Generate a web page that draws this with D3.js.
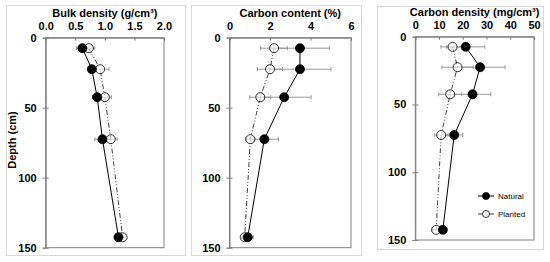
<!DOCTYPE html>
<html>
<head>
<meta charset="utf-8">
<script src="https://cdn.jsdelivr.net/npm/d3@7"></script>
<style>
  body { margin: 0; background: #fff; }
  text { font-family: "Liberation Sans", Arial, sans-serif; }
</style>
</head>
<body>
<div id="chart"></div>
<script>
// depth of each sample (cm)
var depths = [7.5, 22.5, 42.5, 72.5, 142.5];
var depthTicks = [0, 50, 100, 150];

// bulk density (g/cm3)
var bulkNatural = [0.62, 0.78, 0.87, 0.96, 1.23];
var bulkNaturalErr = [0.1, 0.06, 0.08, 0.13, 0.05];
var bulkPlanted = [0.73, 0.92, 1.0, 1.1, 1.3];
var bulkPlantedErr = [0.1, 0.15, 0.11, 0.11, 0.04];
var bulkTicks = [0, 0.5, 1.0, 1.5, 2.0];

// carbon content (%)
var carbonNatural = [3.48, 3.48, 2.7, 1.72, 0.9];
var carbonNaturalErr = [1.45, 1.53, 1.33, 0.7, 0.28];
var carbonPlanted = [2.2, 2.0, 1.52, 1.03, 0.75];
var carbonPlantedErr = [0.66, 0.62, 0.52, 0.22, 0.15];
var carbonTicks = [0, 2, 4, 6];

// carbon density (mg/cm3)
var densNatural = [21.2, 27.3, 24.1, 16.4, 11.6];
var densNaturalErr = [8.1, 10.5, 7.7, 3.6, 1.6];
var densPlanted = [15.7, 17.8, 14.7, 10.9, 8.8];
var densPlantedErr = [4.9, 6.6, 4.9, 2.9, 1.8];
var densTicks = [0, 10, 20, 30, 40, 50];

var svg = d3
  .select("#chart")
  .append("svg")
  .attr("width", 550)
  .attr("height", 262);

function drawPanel(p) {
  // outer frame
  svg
    .append("rect")
    .attr("x", p.box[0] + 0.5)
    .attr("y", p.box[1] + 0.5)
    .attr("width", p.box[2] - p.box[0])
    .attr("height", p.box[3] - p.box[1])
    .style("fill", "none")
    .style("stroke", "#d9d9d9");

  var x = d3.scaleLinear().domain(p.domain).range([p.left, p.right]);
  var y = d3.scaleLinear().domain([0, 150]).range([p.top, p.bottom]);

  var g = svg.append("g");

  // plot box
  g.append("rect")
    .attr("x", p.left)
    .attr("y", p.top)
    .attr("width", p.right - p.left)
    .attr("height", p.bottom - p.top)
    .style("fill", "none")
    .style("stroke", "#7f7f7f")
    .style("stroke-width", "1px");

  // top axis
  var xAxis = g
    .append("g")
    .attr("transform", "translate(0," + p.top + ")")
    .call(
      d3
        .axisTop(x)
        .tickValues(p.ticks)
        .tickSize(-3)
        .tickPadding(8)
        .tickFormat(d3.format(p.fmt))
    );
  xAxis.select(".domain").style("stroke", "#7f7f7f");
  xAxis.selectAll(".tick line").style("stroke", "#7f7f7f");
  xAxis
    .selectAll(".tick text")
    .style("font-size", "11px")
    .style("font-weight", "bold")
    .attr("fill", "#000");

  // left axis
  var yAxis = g
    .append("g")
    .attr("transform", "translate(" + p.left + ",0)")
    .call(d3.axisLeft(y).tickValues(depthTicks).tickSize(3).tickPadding(6));
  yAxis.select(".domain").style("stroke", "#7f7f7f");
  yAxis
    .selectAll(".tick line")
    .attr("x1", 3)
    .attr("x2", -3)
    .style("stroke", "#7f7f7f");
  yAxis
    .selectAll(".tick text")
    .style("font-size", "11px")
    .style("font-weight", "bold")
    .attr("fill", "#000");

  // title
  g.append("text")
    .attr("x", (p.left + p.right) / 2)
    .attr("y", p.top - 21)
    .attr("text-anchor", "middle")
    .style("font-size", "11px")
    .style("font-weight", "bold")
    .text(p.title);

  var series = [
    { v: p.planted, e: p.plantedErr, open: true },
    { v: p.natural, e: p.naturalErr, open: false },
  ];

  // error bars
  series.forEach(function (s) {
    var eb = g
      .selectAll(null)
      .data(depths)
      .enter()
      .append("g")
      .style("stroke", "#9a9a9a")
      .style("stroke-width", "1px");
    eb.append("line")
      .attr("x1", function (d, i) { return x(s.v[i] - s.e[i]); })
      .attr("x2", function (d, i) { return x(s.v[i] + s.e[i]); })
      .attr("y1", function (d) { return y(d); })
      .attr("y2", function (d) { return y(d); });
    [-1, 1].forEach(function (sign) {
      eb.append("line")
        .attr("x1", function (d, i) { return x(s.v[i] + sign * s.e[i]); })
        .attr("x2", function (d, i) { return x(s.v[i] + sign * s.e[i]); })
        .attr("y1", function (d) { return y(d) - 2; })
        .attr("y2", function (d) { return y(d) + 2; });
    });
  });

  var line = d3
    .line()
    .x(function (d) { return x(d[0]); })
    .y(function (d) { return y(d[1]); });

  series.forEach(function (s) {
    g.append("path")
      .datum(s.v.map(function (v, i) { return [v, depths[i]]; }))
      .attr("d", line)
      .style("fill", "none")
      .style("stroke", s.open ? "#444" : "#000")
      .style("stroke-width", "1px")
      .style("stroke-dasharray", s.open ? "5,2,1,2,1,2" : null);
  });

  series.forEach(function (s) {
    g.selectAll(null)
      .data(depths)
      .enter()
      .append("circle")
      .attr("cx", function (d, i) { return x(s.v[i]); })
      .attr("cy", function (d) { return y(d); })
      .attr("r", 4.5)
      .style("fill", s.open ? "#fff" : "#000")
      .style("stroke", "#000")
      .style("stroke-width", "0.8px")
      .style("fill-opacity", s.open ? 0.6 : 1);
  });

  return { x: x, y: y };
}

drawPanel({
  box: [6, 5, 185, 255],
  left: 45.7, right: 164, top: 37.7, bottom: 247.7,
  domain: [0, 2], ticks: bulkTicks, fmt: ".1f",
  title: "Bulk density (g/cm³)",
  natural: bulkNatural, naturalErr: bulkNaturalErr,
  planted: bulkPlanted, plantedErr: bulkPlantedErr,
});

drawPanel({
  box: [191, 5, 361, 255],
  left: 229.5, right: 351, top: 37.7, bottom: 247.7,
  domain: [0, 6], ticks: carbonTicks, fmt: "d",
  title: "Carbon content (%)",
  natural: carbonNatural, naturalErr: carbonNaturalErr,
  planted: carbonPlanted, plantedErr: carbonPlantedErr,
});

drawPanel({
  box: [377, 6, 543, 249],
  left: 415.3, right: 534, top: 36.7, bottom: 240,
  domain: [0, 50], ticks: densTicks, fmt: "d",
  title: "Carbon density (mg/cm³)",
  natural: densNatural, naturalErr: densNaturalErr,
  planted: densPlanted, plantedErr: densPlantedErr,
});

// y label
svg
  .append("text")
  .attr("transform", "translate(16,140) rotate(-90)")
  .attr("text-anchor", "middle")
  .style("font-size", "11px")
  .style("font-weight", "bold")
  .text("Depth (cm)");

// legend
var legendItems = [
  { name: "Natural", open: false },
  { name: "Planted", open: true },
];
var legend = svg
  .selectAll(".legend")
  .data(legendItems)
  .enter()
  .append("g")
  .attr("class", "legend")
  .attr("transform", function (d, i) {
    return "translate(478," + (196 + i * 18) + ")";
  });
legend
  .append("line")
  .attr("x1", 0)
  .attr("x2", 16)
  .style("stroke", function (d) { return d.open ? "#444" : "#000"; })
  .style("stroke-width", "1px");
legend
  .append("circle")
  .attr("cx", 8)
  .attr("r", 3.5)
  .style("fill", function (d) { return d.open ? "#fff" : "#000"; })
  .style("stroke", "#000")
  .style("stroke-width", "0.8px");
legend
  .append("text")
  .attr("x", 20)
  .attr("y", 3)
  .style("font-size", "8px")
  .text(function (d) { return d.name; });
</script>
</body>
</html>
